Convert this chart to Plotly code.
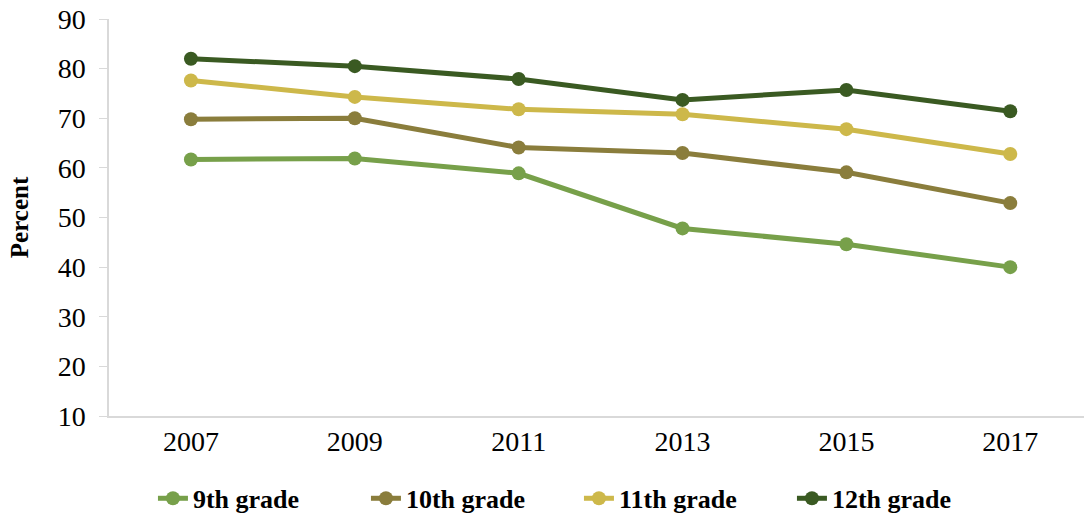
import plotly.graph_objects as go

years = ["2007", "2009", "2011", "2013", "2015", "2017"]
grade9 = [61.7, 61.9, 58.9, 47.8, 44.6, 40.0]
grade10 = [69.8, 70.0, 64.1, 63.0, 59.1, 52.9]
grade11 = [77.6, 74.3, 71.8, 70.8, 67.8, 62.8]
grade12 = [82.0, 80.5, 77.9, 73.7, 75.7, 71.4]

series = [
    ("9th grade", grade9, "#77A04A"),
    ("10th grade", grade10, "#8A7D3C"),
    ("11th grade", grade11, "#CDB84A"),
    ("12th grade", grade12, "#3A5A22"),
]

fig = go.Figure()
for name, vals, col in series:
    fig.add_trace(go.Scatter(
        x=years, y=vals, name="<b>" + name + "</b>", mode="lines+markers",
        line=dict(color=col, width=5),
        marker=dict(color=col, size=14),
    ))

fig.update_layout(
    width=1084, height=522,
    paper_bgcolor="white", plot_bgcolor="white",
    margin=dict(l=109, r=0, t=19, b=104),
    font=dict(family="Liberation Serif", size=28, color="black"),
    xaxis=dict(
        type="category", range=[-0.5, 5.45], automargin=False,
        showline=True, linecolor="#D9D9D9", linewidth=1.5,
        showgrid=False, ticks="", tickfont=dict(size=28),
    ),
    yaxis=dict(
        range=[10, 90], dtick=10, automargin=False,
        showline=True, linecolor="#D9D9D9", linewidth=1.5,
        showgrid=False, zeroline=False,
        ticks="outside", ticklen=8, tickcolor="#D9D9D9",
        tickfont=dict(size=28), ticklabelstandoff=8,
        ticklabeloverflow="allow",
        title=dict(text="<b>Percent</b>", font=dict(size=25), standoff=22),
    ),
    legend=dict(
        orientation="h", x=0.482, xanchor="center", y=-0.2075, yanchor="middle",
        font=dict(size=26, family="Liberation Serif"),
        entrywidth=168, tracegroupgap=0,
    ),
)

# body 기본 여백(8px) 제거
fig.write_html(
    "out.html",
    config={"displayModeBar": False},
    post_script="document.body.style.margin='0';",
)
